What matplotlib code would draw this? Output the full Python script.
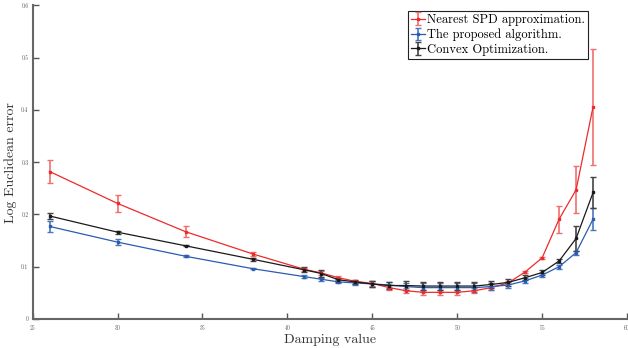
import matplotlib.pyplot as plt

plt.rcParams['font.family'] = ['cmr10', 'DejaVu Serif']
plt.rcParams['axes.formatter.use_mathtext'] = True

# damping values
damping = [26, 30, 34, 38, 41, 42, 43, 44, 45, 46, 47, 48, 49, 50, 51, 52, 53, 54, 55, 56, 57, 58]

spd_mean = [0.282, 0.221, 0.167, 0.124, 0.095, 0.088, 0.079, 0.072, 0.068, 0.060, 0.054, 0.051, 0.051, 0.051,
            0.054, 0.060, 0.069, 0.090, 0.117, 0.191, 0.247, 0.406]
spd_err = [0.022, 0.016, 0.010, 0.004, 0.003, 0.003, 0.003, 0.003, 0.004, 0.005, 0.005, 0.005, 0.005, 0.005,
           0.005, 0.004, 0.003, 0.002, 0.002, 0.026, 0.045, 0.111]

prop_mean = [0.177, 0.147, 0.120, 0.096, 0.081, 0.076, 0.071, 0.069, 0.067, 0.065, 0.062, 0.060, 0.060, 0.060,
             0.060, 0.062, 0.065, 0.073, 0.084, 0.100, 0.127, 0.191]
prop_err = [0.011, 0.006, 0.002, 0.001, 0.003, 0.003, 0.003, 0.004, 0.005, 0.006, 0.007, 0.008, 0.008, 0.008,
            0.008, 0.007, 0.006, 0.005, 0.004, 0.004, 0.004, 0.021]

cvx_mean = [0.197, 0.166, 0.140, 0.114, 0.094, 0.087, 0.075, 0.071, 0.067, 0.064, 0.064, 0.063, 0.063, 0.063,
            0.063, 0.066, 0.070, 0.079, 0.089, 0.111, 0.154, 0.242]
cvx_err = [0.006, 0.003, 0.001, 0.003, 0.005, 0.006, 0.004, 0.004, 0.005, 0.006, 0.008, 0.008, 0.008, 0.008,
           0.008, 0.007, 0.006, 0.005, 0.004, 0.004, 0.023, 0.029]

series = [
    ("Nearest SPD approximation.", spd_mean, spd_err, '#ee2a2a', '#f07070'),
    ("The proposed algorithm.", prop_mean, prop_err, '#2a5cb0', '#4a78c0'),
    ("Convex Optimization.", cvx_mean, cvx_err, '#1a1a1a', '#444444'),
]

fig = plt.figure(figsize=(6.28, 3.48), dpi=100)
ax = fig.add_axes([0.052, 0.0833, 0.9465, 0.9017])

for label, mean, err, col, ecol in series:
    ax.errorbar(damping, mean, yerr=err, color=col, ecolor=ecol, lw=0.9, elinewidth=1.2,
                capsize=2, capthick=1, marker='s', markersize=1.5, label=label)

ax.set_xlim(25, 60)
ax.set_ylim(0, 0.6)
ax.set_xticks([25, 30, 35, 40, 45, 50, 55, 60])
ax.set_yticks([0, 0.1, 0.2, 0.3, 0.4, 0.5, 0.6])
ax.set_yticklabels(['0', '0.1', '0.2', '0.3', '0.4', '0.5', '0.6'])
ax.tick_params(direction='in', length=4, width=1, labelsize=4, colors='#555555', pad=3)

for s in ['top', 'right']:
    ax.spines[s].set_visible(False)
for s in ['left', 'bottom']:
    ax.spines[s].set_color('#666666')
    ax.spines[s].set_linewidth(1.5)

ax.set_xlabel("Damping value", fontsize=10, color='#333333', labelpad=1)
ax.set_ylabel("Log Euclidean error", fontsize=10, color='#333333', labelpad=3)

leg = ax.legend(loc='upper right', bbox_to_anchor=(0.934, 0.982), borderaxespad=0,
                fancybox=False, edgecolor='#222222', framealpha=1, fontsize=9,
                handlelength=1.1, handletextpad=0.15, borderpad=0.25, labelspacing=0.2)
leg.get_frame().set_linewidth(0.8)

fig.savefig("out.png", dpi=100)
